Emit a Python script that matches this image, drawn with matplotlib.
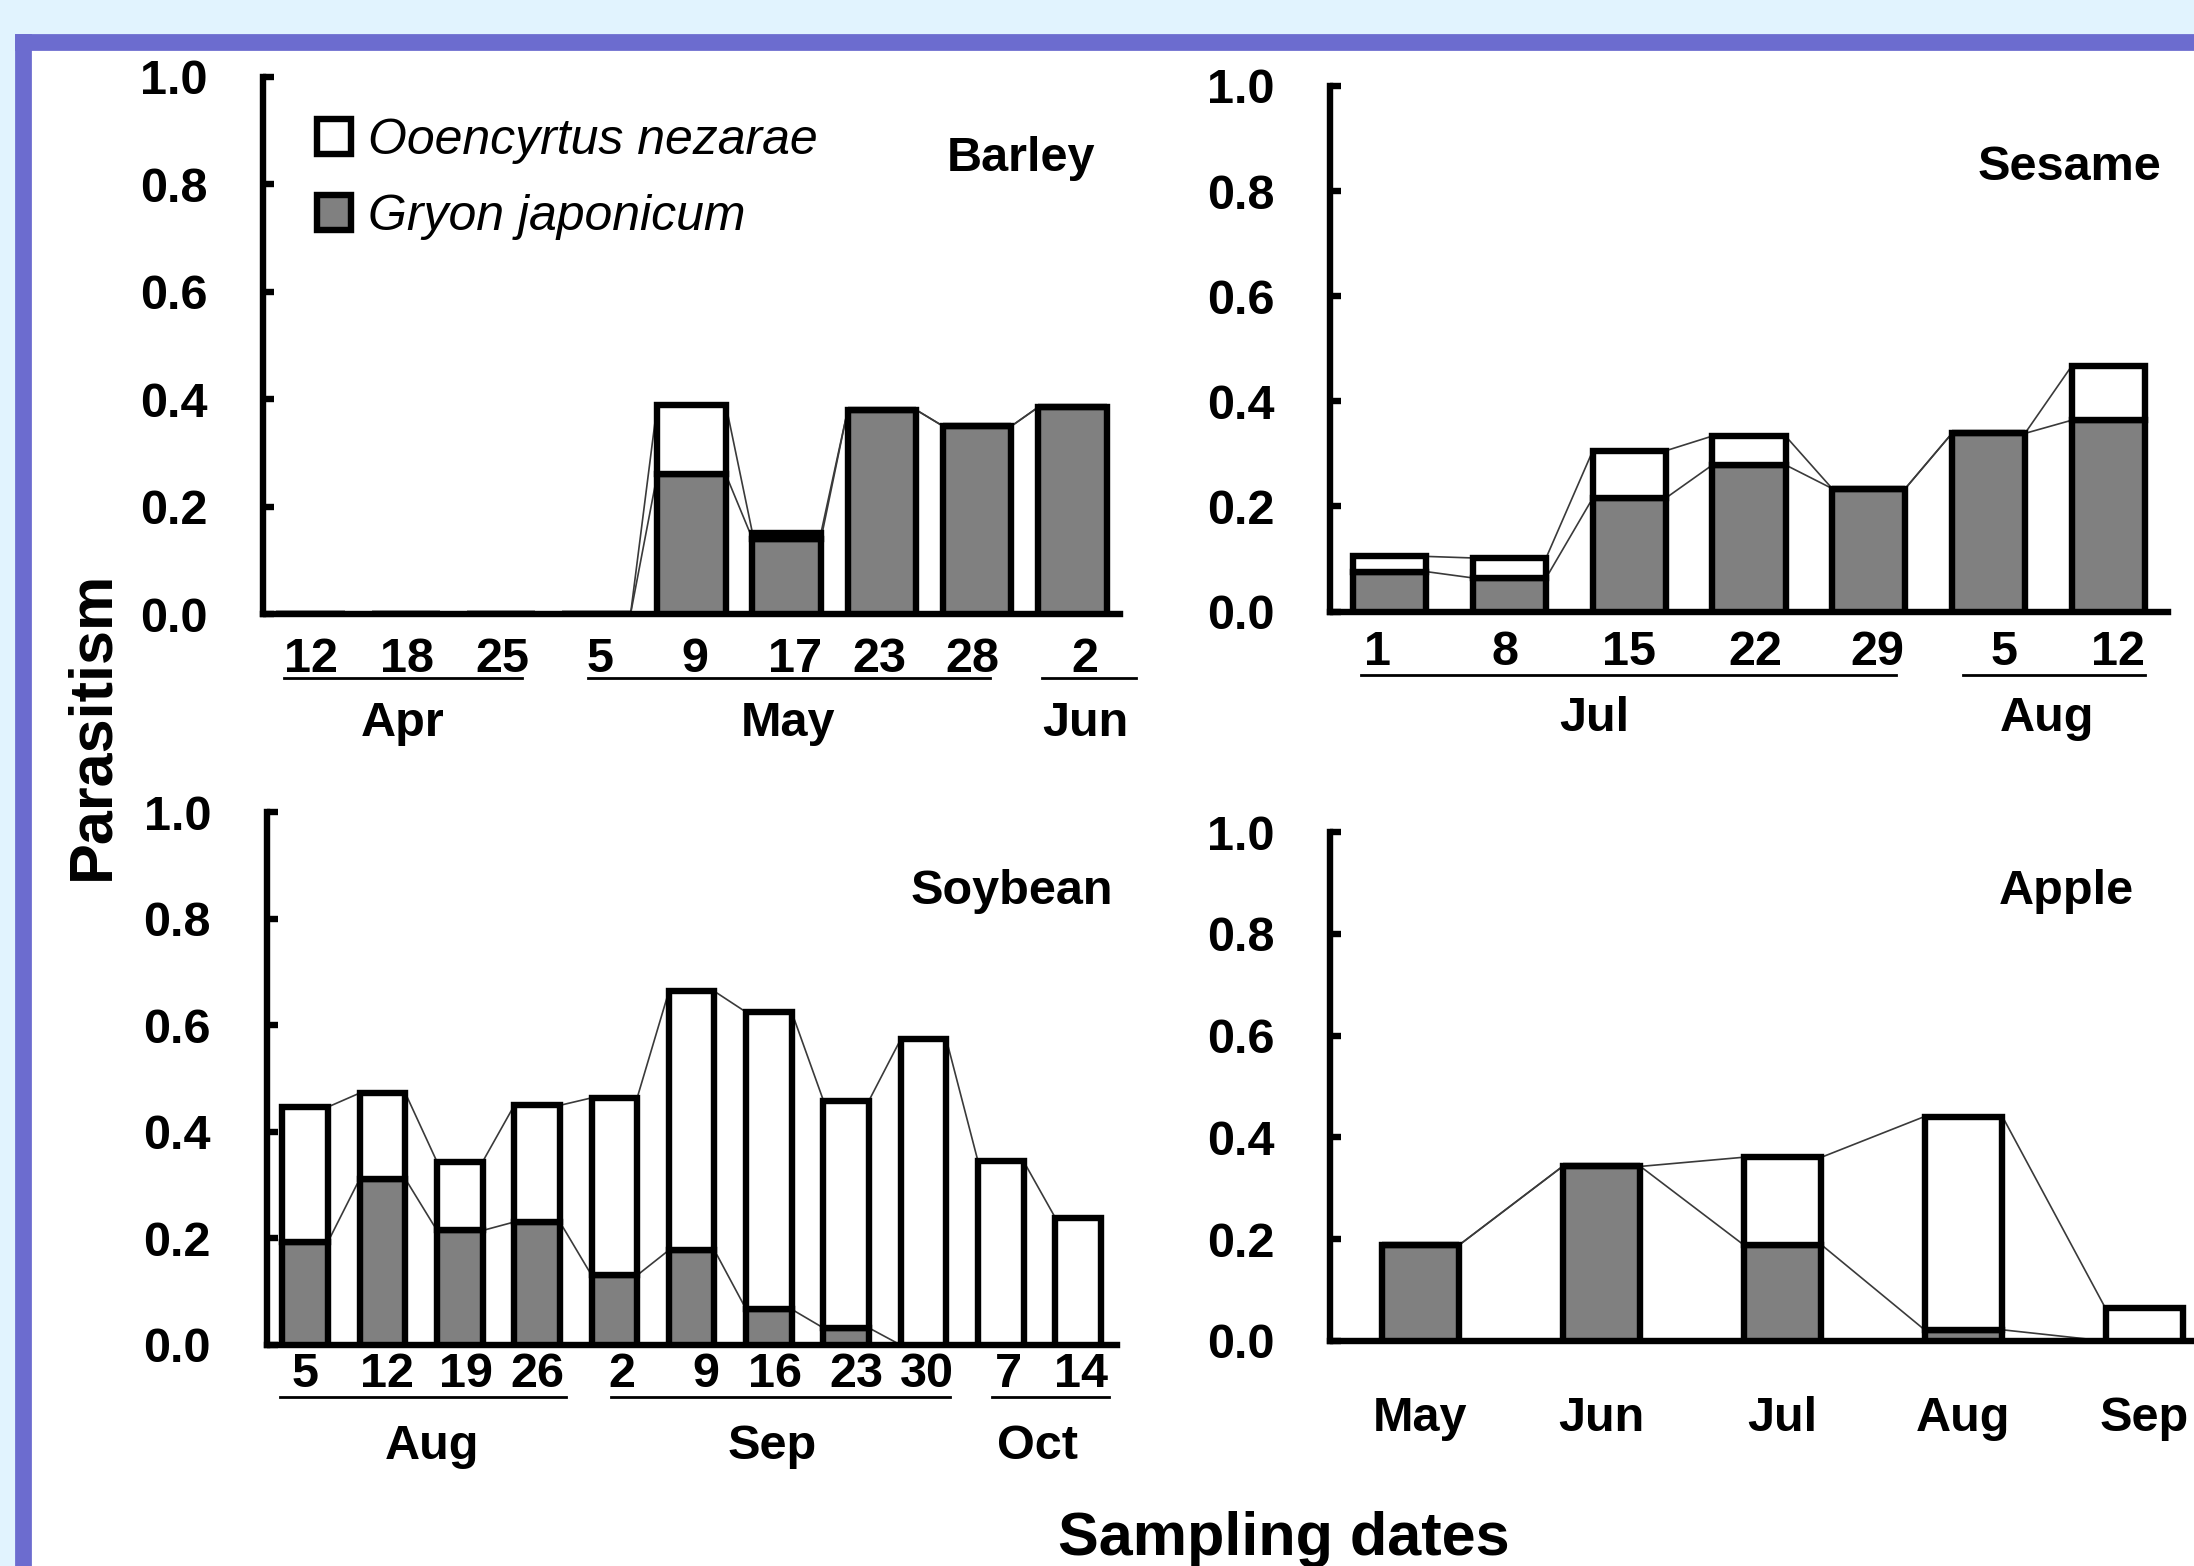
import matplotlib
matplotlib.use('Agg')
import matplotlib.pyplot as plt
from matplotlib.patches import Rectangle
from matplotlib.lines import Line2D
import matplotlib.transforms as mtransforms

plt.rcParams['font.family'] = ['Liberation Sans', 'DejaVu Sans']

# ---------------- data ----------------
barley_dates = ['12', '18', '25', '5', '9', '17', '23', '28', '2']
barley_gryon = [0, 0, 0, 0, 0.26, 0.14, 0.38, 0.35, 0.385]
barley_ooenc = [0, 0, 0, 0, 0.13, 0.011, 0, 0, 0]
barley_months = ['Apr', 'May', 'Jun']

sesame_dates = ['1', '8', '15', '22', '29', '5', '12']
sesame_gryon = [0.076, 0.064, 0.216, 0.279, 0.234, 0.339, 0.364]
sesame_ooenc = [0.029, 0.038, 0.090, 0.055, 0, 0, 0.103]
sesame_months = ['Jul', 'Aug']

soybean_dates = ['5', '12', '19', '26', '2', '9', '16', '23', '30', '7', '14']
soybean_gryon = [0.194, 0.312, 0.215, 0.231, 0.131, 0.178, 0.067, 0.032, 0, 0, 0]
soybean_ooenc = [0.253, 0.161, 0.129, 0.219, 0.333, 0.486, 0.558, 0.427, 0.574, 0.345, 0.239]
soybean_months = ['Aug', 'Sep', 'Oct']

apple_months = ['May', 'Jun', 'Jul', 'Aug', 'Sep']
apple_gryon = [0.189, 0.343, 0.189, 0.022, 0]
apple_ooenc = [0, 0, 0.172, 0.419, 0.064]

yticks = [0.0, 0.2, 0.4, 0.6, 0.8, 1.0]
legend_labels = ['Ooencyrtus nezarae', 'Gryon japonicum']

# ---------------- layout ----------------
W, H = 2194, 1566
DPI = 200
fig = plt.figure(figsize=(W / DPI, H / DPI), dpi=DPI, facecolor='white')

def fy(py):
    return 1 - py / H

def fx(px):
    return px / W

# slide decorations
LB = '#E1F3FE'
PU = '#6C6CCF'
fig.add_artist(Rectangle((0, fy(35)), 1, 35 / H, transform=fig.transFigure, color=LB, zorder=-10))
fig.add_artist(Rectangle((0, 0), fx(16), 1, transform=fig.transFigure, color=LB, zorder=-10))
fig.add_artist(Rectangle((fx(16), fy(49)), 1, 14 / H, transform=fig.transFigure, color=PU, zorder=-9))
fig.add_artist(Rectangle((fx(16), 0), 14 / W, fy(35), transform=fig.transFigure, color=PU, zorder=-9))

LW = 2.3
FS = 17.5

def panel(rect_px, labels, gryon, ooenc, width, groups, y_num, y_line, y_month, name, name_pos,
          label_shift=None):
    l, r, b, t = rect_px
    ax = fig.add_axes([fx(l), fy(b), (r - l) / W, (b - t) / H])
    ax.set_facecolor('none')
    n = len(gryon)
    x = list(range(n))
    bg = ax.bar(x, gryon, width, color='#808080', edgecolor='black', linewidth=LW, zorder=3)
    bo = ax.bar(x, ooenc, width, bottom=gryon, color='white', edgecolor='black', linewidth=LW, zorder=3)
    total = [g + o for g, o in zip(gryon, ooenc)]
    for i in range(n - 1):
        for series in (total, gryon):
            ax.plot([x[i] + width / 2, x[i + 1] - width / 2], [series[i], series[i + 1]],
                    color='#3a3a3a', lw=0.6, zorder=2, solid_capstyle='butt')
    ax.set_xlim(-0.5, n - 0.5)
    ax.set_ylim(0, 1.0)
    for s in ('top', 'right'):
        ax.spines[s].set_visible(False)
    for s in ('left', 'bottom'):
        ax.spines[s].set_linewidth(LW)
    ax.set_xticks([])
    ax.set_yticks(yticks)
    ax.set_yticklabels(['%.1f' % v for v in yticks], fontsize=FS, fontweight='bold')
    ax.tick_params(axis='y', direction='in', length=4, width=LW, pad=20)
    tr = mtransforms.blended_transform_factory(ax.transData, fig.transFigure)
    if label_shift is None:
        label_shift = [0] * n
    for xi, lab, sh in zip(x, labels, label_shift):
        ax.text(xi + sh, fy(y_num), lab, transform=tr, ha='center', va='baseline',
                fontsize=FS, fontweight='bold', clip_on=False)
    for (mname, x0, x1, xm) in groups:
        if y_line is not None:
            ax.add_line(Line2D([x0, x1], [fy(y_line)] * 2, transform=tr, color='black',
                               lw=1.0, clip_on=False))
        ax.text(xm, fy(y_month), mname, transform=tr, ha='center', va='baseline',
                fontsize=FS, fontweight='bold', clip_on=False)
    fig.text(fx(name_pos[0]), fy(name_pos[1]), name, ha='right', va='baseline',
             fontsize=FS, fontweight='bold')
    return ax, bo, bg

# Barley
axb, bo, bg = panel((263, 1120, 614, 77), barley_dates, barley_gryon, barley_ooenc, 0.72,
                    [(barley_months[0], -0.28, 2.22, 0.97),
                     (barley_months[1], 2.91, 7.13, 5.01),
                     (barley_months[2], 7.68, 8.67, 8.14)],
                    672, 678, 736, 'Barley', (1095, 171),
                    label_shift=[0, 0.01, 0.01, 0.04, 0.04, 0.085, -0.03, -0.05, 0.13])

fig.legend([bo, bg], legend_labels, loc='upper left',
           bbox_to_anchor=(fx(317), fy(118)), bbox_transform=fig.transFigure,
           frameon=False, borderpad=0, borderaxespad=0,
           handlelength=0.68, handleheight=0.72, handletextpad=0.35,
           labelspacing=0.6,
           prop={'style': 'italic', 'size': 18, 'weight': 'normal'})

# Sesame
panel((1330, 2168, 611.6, 85.9), sesame_dates, sesame_gryon, sesame_ooenc, 0.61,
      [(sesame_months[0], -0.24, 4.23, 1.71),
       (sesame_months[1], 4.79, 6.31, 5.49)],
      665, 675, 731, 'Sesame', (2161, 180),
      label_shift=[-0.1, -0.04, 0, 0.05, 0.07, 0.13, 0.08])

# Soybean
panel((266.6, 1116.7, 1345, 812.4), soybean_dates, soybean_gryon, soybean_ooenc, 0.59,
      [(soybean_months[0], -0.33, 3.37, 1.64),
       (soybean_months[1], 3.96, 8.34, 6.04),
       (soybean_months[2], 8.89, 10.40, 9.47)],
      1387, 1396.5, 1459, 'Soybean', (1113, 904),
      label_shift=[0, 0.06, 0.08, 0, 0.1, 0.18, 0.08, 0.13, 0.05, 0.1, 0.04])

# Apple
panel((1330, 2235, 1341, 832), [''] * 5, apple_gryon, apple_ooenc, 0.43,
      [(m, i, i, i) for i, m in enumerate(apple_months)],
      1431, None, 1431, 'Apple', (2134, 904))

fig.text(fx(93), fy(725), 'Parasitism', rotation=90, ha='center', va='center',
         fontsize=22, fontweight='bold')
fig.text(fx(1284), fy(1555), 'Sampling dates', ha='center', va='baseline',
         fontsize=22, fontweight='bold')

fig.savefig('out.png', dpi=DPI, facecolor='white')
